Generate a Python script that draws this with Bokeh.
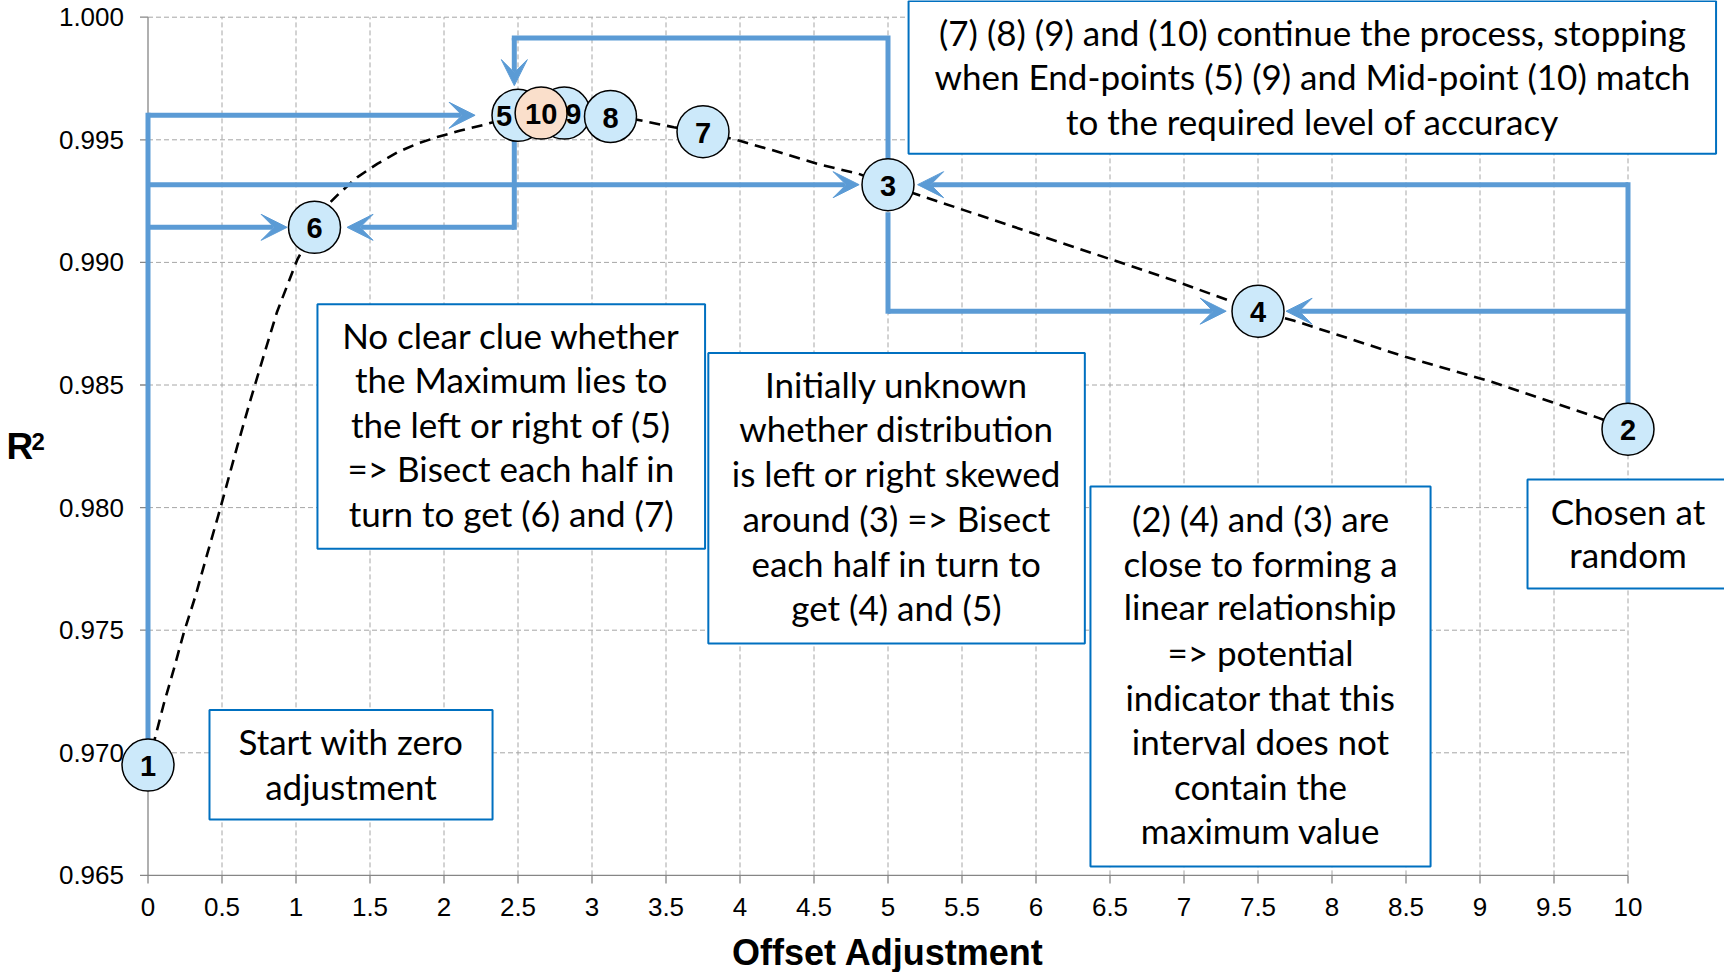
from bokeh.plotting import figure
from bokeh.models import Range1d, Arrow, VeeHead, ColumnDataSource
from bokeh.embed import file_html
from bokeh.resources import INLINE
from bokeh.core.properties import value

# ---------------- data ----------------
point_ids = ["1", "2", "3", "4", "5", "6", "7", "8", "9", "10"]
point_x = [0, 10, 5, 7.5, 2.5, 1.125, 3.75, 3.125, 2.8125, 2.65625]
point_y = [0.9695, 0.9832, 0.99317, 0.98801, 0.99600, 0.99143, 0.99533, 0.99595, 0.99609, 0.99609]

curve_x = [0, 0.107, 0.174, 0.242, 0.321, 0.400, 0.490, 0.603, 0.693, 0.782, 0.873, 1.008,
           1.125, 1.233, 1.300, 1.413, 1.549, 1.684, 1.819, 1.954, 2.111, 2.269, 2.5,
           2.65625, 2.8125, 3.125, 3.305, 3.553, 3.75, 3.992, 4.228, 4.522, 4.803, 5.0,
           6.938, 7.5, 7.745, 8.495, 9.078, 9.80, 10]
curve_y = [0.9695, 0.9720, 0.9734, 0.9749, 0.9764, 0.9781, 0.9800, 0.9825, 0.9844, 0.9862,
           0.9880, 0.9901, 0.99143, 0.99246, 0.99286, 0.99347, 0.99402, 0.99449, 0.99484,
           0.99511, 0.99538, 0.99561, 0.99600, 0.99609, 0.99609, 0.99595, 0.99582, 0.99551,
           0.99533, 0.99497, 0.99456, 0.99402, 0.99361, 0.99317, 0.98925, 0.98801, 0.98762,
           0.98615, 0.98513, 0.98366, 0.9832]

x_ticks = [0, 0.5, 1, 1.5, 2, 2.5, 3, 3.5, 4, 4.5, 5, 5.5, 6, 6.5, 7, 7.5, 8, 8.5, 9, 9.5, 10]
x_tick_labels = ["0", "0.5", "1", "1.5", "2", "2.5", "3", "3.5", "4", "4.5", "5", "5.5",
                 "6", "6.5", "7", "7.5", "8", "8.5", "9", "9.5", "10"]
y_ticks = [0.965, 0.970, 0.975, 0.980, 0.985, 0.990, 0.995, 1.000]
y_tick_labels = ["0.965", "0.970", "0.975", "0.980", "0.985", "0.990", "0.995", "1.000"]

x_title = "Offset Adjustment"
y_title_main = "R"
y_title_sup = "2"

# ---------------- styling constants ----------------
BLUE = "#5B9BD5"
BOX_BLUE = "#0070C0"
GRID = "#A6A6A6"
AXIS = "#868686"
CIRCLE_FILL = "#CCE9FA"
CIRCLE_HI = "#FADFCB"
TXT_FONT = "Lato"
NUM_FONT = "Liberation Sans"

W, H = 1724, 972
PX_X = 148.0          # pixels per x unit
PX_Y = 24520.0        # pixels per y unit
X0_PX = 147.5         # canvas pixel of x = 0
YTOP_PX = 16.7        # canvas pixel of y = 1.000

def dx(px):
    return px / PX_X

def dy(px):
    return px / PX_Y

x_start = -dx(X0_PX)
y_end = y_ticks[-1] + dy(YTOP_PX)
p = figure(width=W, height=H,
           x_range=Range1d(x_start, x_start + dx(W)),
           y_range=Range1d(y_end - dy(H), y_end),
           min_border=0, x_axis_location=None, y_axis_location=None,
           output_backend="svg", toolbar_location=None)
p.outline_line_color = None
p.background_fill_color = "white"
p.xgrid.visible = False
p.ygrid.visible = False

xmin, xmax = x_ticks[0], x_ticks[-1]
ymin, ymax = y_ticks[0], y_ticks[-1]

# grid lines (dashed) drawn from tick lists
vx = x_ticks[1:]
p.segment(x0=vx, y0=[ymin] * len(vx), x1=vx, y1=[ymax] * len(vx),
          line_color=GRID, line_width=1, line_dash="5 3")
hy = y_ticks[1:]
p.segment(x0=[xmin] * len(hy), y0=hy, x1=[xmax] * len(hy), y1=hy,
          line_color=GRID, line_width=1, line_dash="5 3")

# axis lines and tick marks
p.segment(x0=[xmin, xmin], y0=[ymin, ymin], x1=[xmax, xmin], y1=[ymin, ymax],
          line_color=AXIS, line_width=1.3)
p.segment(x0=x_ticks, y0=[ymin] * len(x_ticks), x1=x_ticks,
          y1=[ymin - dy(8)] * len(x_ticks), line_color=AXIS, line_width=1.3)
p.segment(x0=[xmin] * len(y_ticks), y0=y_ticks, x1=[xmin - dx(8)] * len(y_ticks),
          y1=y_ticks, line_color=AXIS, line_width=1.3)

# tick labels
p.text(x=x_ticks, y=[ymin - dy(32)] * len(x_ticks), text=x_tick_labels,
       text_font=value(NUM_FONT), text_font_size="26px", text_color="black",
       text_align="center", text_baseline="middle")
p.text(x=[xmin - dx(24)] * len(y_ticks), y=y_ticks, text=y_tick_labels,
       text_font=value(NUM_FONT), text_font_size="26px", text_color="black",
       text_align="right", text_baseline="middle")

# axis titles
p.text(x=[(xmin + xmax) / 2], y=[ymax - dy(952 - YTOP_PX)], text=[x_title],
       text_font=value(NUM_FONT), text_font_style="bold", text_font_size="36px",
       text_color="black", text_align="center", text_baseline="middle")
p.text(x=[xmin - dx(X0_PX - 6)], y=[ymax - dy(446 - YTOP_PX)], text=[y_title_main],
       text_font=value(NUM_FONT), text_font_style="bold", text_font_size="37px",
       text_color="black", text_align="left", text_baseline="middle")
p.text(x=[xmin - dx(X0_PX - 31)], y=[ymax - dy(441 - YTOP_PX)], text=[y_title_sup],
       text_font=value(NUM_FONT), text_font_style="bold", text_font_size="24px",
       text_color="black", text_align="left", text_baseline="middle")

# dashed curve
p.line(curve_x, curve_y, line_color="black", line_width=2.6, line_dash="11 7")

# ---------------- connectors ----------------
pt = dict(zip(point_ids, zip(point_x, point_y)))

def P(i):
    return pt[i]

top_line = 0.99915
x_bracket = 2.475
polylines = [
    ([P("1")[0], P("1")[0]], [P("1")[1] + dy(26), P("5")[1]]),
    ([x_bracket, x_bracket], [P("5")[1] - dy(28), P("6")[1]]),
    ([P("3")[0], P("3")[0], x_bracket], [P("3")[1] + dy(27), top_line, top_line]),
    ([P("3")[0], P("3")[0]], [P("3")[1] - dy(30), P("4")[1]]),
    ([P("2")[0], P("2")[0]], [P("2")[1] + dy(27), P("3")[1]]),
]
p.multi_line(xs=[a for a, b in polylines], ys=[b for a, b in polylines],
             line_color=BLUE, line_width=5, line_cap="square", line_join="miter")

arrows = [
    ((P("1")[0], P("5")[1]), (2.21, P("5")[1])),
    ((P("1")[0], P("3")[1]), (4.805, P("3")[1])),
    ((P("1")[0], P("6")[1]), (0.94, P("6")[1])),
    ((x_bracket, P("6")[1]), (1.345, P("6")[1])),
    ((x_bracket, top_line), (x_bracket, 0.99721)),
    ((P("3")[0], P("4")[1]), (7.285, P("4")[1])),
    ((P("2")[0], P("4")[1]), (7.69, P("4")[1])),
    ((P("2")[0], P("3")[1]), (5.2, P("3")[1])),
]
for (xs_, ys_), (xe, ye) in arrows:
    p.add_layout(Arrow(end=VeeHead(size=26, fill_color=BLUE, line_color=BLUE, line_width=1),
                       x_start=xs_, y_start=ys_, x_end=xe, y_end=ye,
                       line_color=BLUE, line_width=5, level="glyph"))

# ---------------- text boxes ----------------
boxes = [
    # (left, right, top, bottom, center_x, lines, line_ys)
    (5.139, 10.595, 1.00066, 0.99443, 7.868,
     ["(7) (8) (9) and (10) continue the process, stopping",
      "when End-points (5) (9) and Mid-point (10) match",
      "to the required level of accuracy"],
     [0.999294, 0.99748, 0.995665]),
    (1.145, 3.764, 0.98829, 0.97832, 2.454,
     ["No clear clue whether", "the Maximum lies to", "the left or right of (5)",
      "=> Bisect each half in", "turn to get (6) and (7)"],
     [0.98695, 0.98514, 0.98331, 0.98151, 0.97968]),
    (3.786, 6.330, 0.98631, 0.97446, 5.057,
     ["Initially unknown", "whether distribution", "is left or right skewed",
      "around (3) => Bisect", "each half in turn to", "get (4) and (5)"],
     [0.98492, 0.98313, 0.98129, 0.97949, 0.97765, 0.97586]),
    (6.368, 8.666, 0.98086, 0.96536, 7.517,
     ["(2) (4) and (3) are", "close to forming a", "linear relationship", "=> potential",
      "indicator that this", "interval does not", "contain the", "maximum value"],
     [0.979474, 0.977659, 0.975865, 0.974029, 0.972194, 0.970379, 0.968564, 0.96675]),
    (9.321, 10.75, 0.98115, 0.97670, 10.0,
     ["Chosen at", "random"], [0.979739, 0.978006]),
    (0.4155, 2.328, 0.97175, 0.96728, 1.372,
     ["Start with zero", "adjustment"], [0.970379, 0.968544]),
]
p.quad(left=[b[0] for b in boxes], right=[b[1] for b in boxes],
       top=[b[2] for b in boxes], bottom=[b[3] for b in boxes],
       fill_color="white", line_color=BOX_BLUE, line_width=2)
tx, ty, tt = [], [], []
for b in boxes:
    for line, yy in zip(b[5], b[6]):
        tx.append(b[4]); ty.append(yy + dy(2.5)); tt.append(line)
p.text(x=tx, y=ty, text=tt, text_font=value(TXT_FONT), text_font_size="35px",
       text_color="black", text_align="center", text_baseline="middle")

# ---------------- numbered circles ----------------
draw_order = [0, 1, 2, 3, 4, 5, 6, 8, 9, 7]
fills = [CIRCLE_HI if pid == "10" else CIRCLE_FILL for pid in point_ids]
label_dx = {"5": -14, "9": 9}
src = ColumnDataSource(dict(
    x=[point_x[i] for i in draw_order],
    y=[point_y[i] for i in draw_order],
    t=[point_ids[i] for i in draw_order],
    f=[fills[i] for i in draw_order],
    dx=[label_dx.get(point_ids[i], 0) for i in draw_order],
))
p.scatter("x", "y", source=src, size=52, marker="circle", fill_color="f",
          line_color="black", line_width=1.5)
p.text("x", "y", text="t", source=src, x_offset="dx", text_font=value(NUM_FONT),
       text_font_style="bold", text_font_size="29px", text_color="black",
       text_align="center", text_baseline="middle", y_offset=1)

open("out.html", "w").write(file_html(p, INLINE))
